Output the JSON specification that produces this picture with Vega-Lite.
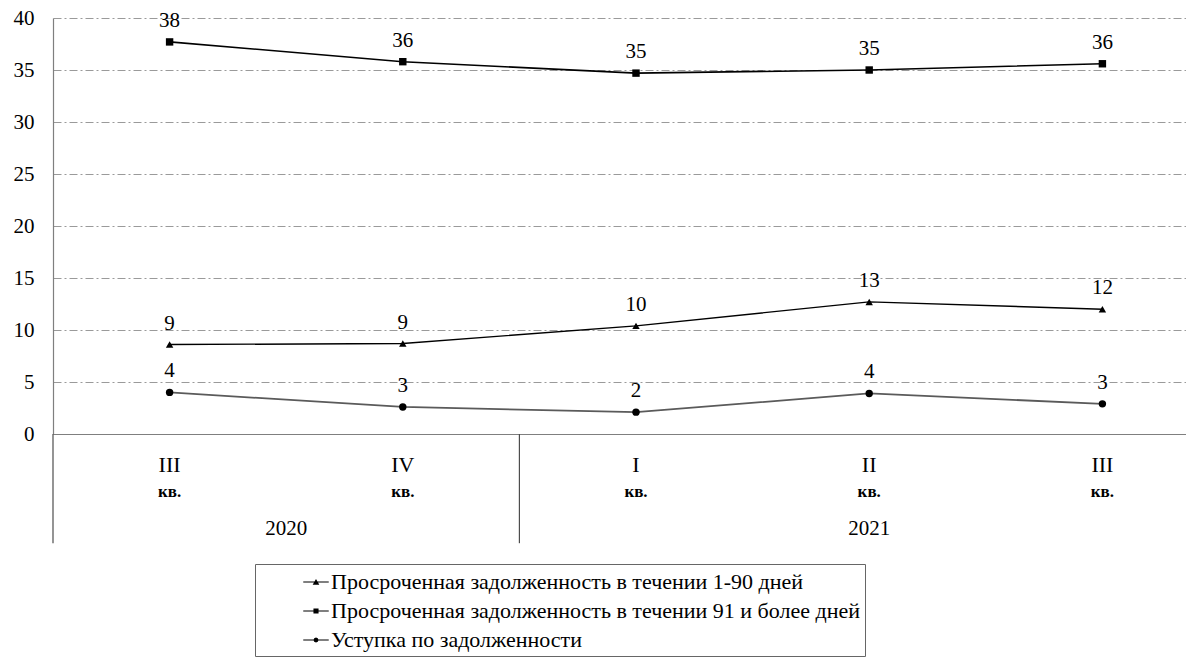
{
  "$schema": "https://vega.github.io/schema/vega-lite/v6.json",
  "autosize": {"type": "none"},
  "width": 1133,
  "height": 416,
  "padding": {"left": 53, "top": 18, "right": 0, "bottom": 230},
  "background": "white",
  "config": {
    "view": {"stroke": null},
    "font": "Liberation Serif",
    "text": {"font": "Liberation Serif", "color": "black"}
  },
  "datasets": {
    "debt": [
      {"q": "2020-III", "s": "Просроченная задолженность в течении 1-90 дней", "v": 8.6},
      {"q": "2020-IV", "s": "Просроченная задолженность в течении 1-90 дней", "v": 8.7},
      {"q": "2021-I", "s": "Просроченная задолженность в течении 1-90 дней", "v": 10.4},
      {"q": "2021-II", "s": "Просроченная задолженность в течении 1-90 дней", "v": 12.7},
      {"q": "2021-III", "s": "Просроченная задолженность в течении 1-90 дней", "v": 12.0},
      {"q": "2020-III", "s": "Просроченная задолженность в течении 91 и более дней", "v": 37.7},
      {"q": "2020-IV", "s": "Просроченная задолженность в течении 91 и более дней", "v": 35.8},
      {"q": "2021-I", "s": "Просроченная задолженность в течении 91 и более дней", "v": 34.7},
      {"q": "2021-II", "s": "Просроченная задолженность в течении 91 и более дней", "v": 35.0},
      {"q": "2021-III", "s": "Просроченная задолженность в течении 91 и более дней", "v": 35.6},
      {"q": "2020-III", "s": "Уступка по задолженности", "v": 4.0},
      {"q": "2020-IV", "s": "Уступка по задолженности", "v": 2.6},
      {"q": "2021-I", "s": "Уступка по задолженности", "v": 2.1},
      {"q": "2021-II", "s": "Уступка по задолженности", "v": 3.9},
      {"q": "2021-III", "s": "Уступка по задолженности", "v": 2.9}
    ],
    "quarters": [
      {"q": "2020-III"}, {"q": "2020-IV"}, {"q": "2021-I"}, {"q": "2021-II"}, {"q": "2021-III"}
    ]
  },
  "encoding": {
    "x": {
      "field": "q",
      "type": "nominal",
      "sort": ["2020-III", "2020-IV", "2021-I", "2021-II", "2021-III"],
      "scale": {"type": "band", "range": [0, 1166], "paddingInner": 0, "paddingOuter": 0},
      "axis": {
        "title": null,
        "labelAngle": 0,
        "ticks": false,
        "labelExpr": "split(datum.value, '-')[1]",
        "labelFont": "Liberation Serif",
        "labelFontSize": 22,
        "labelColor": "black",
        "labelPadding": 20,
        "domainColor": "#7f7f7f",
        "domainWidth": 1.2,
        "grid": false
      }
    }
  },
  "layer": [
    {
      "data": {"name": "debt"},
      "mark": {"type": "line"},
      "encoding": {
        "y": {
          "field": "v",
          "type": "quantitative",
          "scale": {"domain": [0, 40], "nice": false, "zero": false},
          "axis": {
            "title": null,
            "values": [0, 5, 10, 15, 20, 25, 30, 35, 40],
            "ticks": false,
            "labelPadding": 19,
            "labelFont": "Liberation Serif",
            "labelFontSize": 21,
            "labelColor": "black",
            "domainColor": "#7f7f7f",
            "domainWidth": 1.2,
            "grid": true,
            "gridColor": "#9a9a9a",
            "gridWidth": 1,
            "gridDash": [8, 3, 2, 3]
          }
        },
        "detail": {"field": "s"},
        "stroke": {
          "field": "s",
          "type": "nominal",
          "scale": {"range": ["#000000", "#000000", "#5a5a5a"]},
          "legend": null
        },
        "strokeWidth": {
          "field": "s",
          "type": "nominal",
          "scale": {"range": [1.4, 1.8, 1.3]},
          "legend": null
        }
      }
    },
    {
      "data": {"name": "debt"},
      "transform": [{"filter": "datum.s == 'Просроченная задолженность в течении 1-90 дней'"}],
      "mark": {"type": "point", "filled": true, "color": "black", "opacity": 1, "size": 55, "shape": "triangle-up"},
      "encoding": {"y": {"field": "v", "type": "quantitative"}}
    },
    {
      "data": {"name": "debt"},
      "transform": [{"filter": "datum.s == 'Просроченная задолженность в течении 91 и более дней'"}],
      "mark": {"type": "point", "filled": true, "color": "black", "opacity": 1, "size": 55, "shape": "square"},
      "encoding": {"y": {"field": "v", "type": "quantitative"}}
    },
    {
      "data": {"name": "debt"},
      "transform": [{"filter": "datum.s == 'Уступка по задолженности'"}],
      "mark": {"type": "point", "filled": true, "color": "black", "opacity": 1, "size": 55, "shape": "circle"},
      "encoding": {"y": {"field": "v", "type": "quantitative"}}
    },
    {
      "data": {"name": "debt"},
      "mark": {"type": "text", "dy": -21, "fontSize": 21, "baseline": "middle", "align": "center", "font": "Liberation Serif"},
      "encoding": {
        "y": {"field": "v", "type": "quantitative"},
        "text": {"field": "v", "type": "quantitative", "format": ".0f"}
      }
    },
    {
      "data": {"name": "debt"},
      "mark": {"type": "point", "filled": true, "color": "black", "size": 625, "opacity": 0},
      "encoding": {
        "y": {"field": "v", "type": "quantitative"},
        "shape": {
          "field": "s",
          "type": "nominal",
          "scale": {
            "domain": ["Просроченная задолженность в течении 1-90 дней", "Просроченная задолженность в течении 91 и более дней", "Уступка по задолженности"],
            "range": [
              "M-1,-0.03L1,-0.03L1,0.03L-1,0.03ZM-0.26,0.22L0,-0.24L0.26,0.22Z",
              "M-1,-0.03L1,-0.03L1,0.03L-1,0.03ZM-0.2,-0.2L0.2,-0.2L0.2,0.2L-0.2,0.2Z",
              "M-1,-0.03L1,-0.03L1,0.03L-1,0.03ZM-0.2,0L-0.14,-0.14L0,-0.2L0.14,-0.14L0.2,0L0.14,0.14L0,0.2L-0.14,0.14Z"
            ]
          },
          "legend": {
            "title": null,
            "orient": "none",
            "legendX": 202,
            "legendY": 546,
            "direction": "vertical",
            "strokeColor": "#666666",
            "padding": 5,
            "symbolOffset": 43,
            "symbolSize": 650,
            "symbolOpacity": 1,
            "symbolFillColor": "black",
            "symbolStrokeColor": "black",
            "symbolStrokeWidth": 0,
            "labelFont": "Liberation Serif",
            "labelFontSize": 22,
            "labelColor": "black",
            "labelOffset": 2,
            "labelLimit": 900,
            "rowPadding": 5
          }
        }
      }
    },
    {
      "data": {"name": "quarters"},
      "mark": {"type": "rule", "color": "#4d4d4d", "strokeWidth": 1.2},
      "transform": [{"filter": "datum.q == '2020-III' || datum.q == '2021-I'"}],
      "encoding": {
        "x": {"field": "q", "type": "nominal", "bandPosition": 0},
        "y": {"datum": 0},
        "y2": {"datum": -10.5}
      }
    },
    {
      "data": {"name": "quarters"},
      "mark": {"type": "text", "text": "кв.", "fontSize": 17, "fontWeight": "bold", "baseline": "middle"},
      "encoding": {
        "y": {"datum": -5.6}
      }
    },
    {
      "data": {"values": [{"year": "2020", "q": "2020-IV"}]},
      "mark": {"type": "text", "fontSize": 21, "baseline": "middle"},
      "encoding": {
        "x": {"field": "q", "type": "nominal", "bandPosition": 0},
        "y": {"datum": -9.1},
        "text": {"field": "year"}
      }
    },
    {
      "data": {"values": [{"year": "2021", "q": "2021-II"}]},
      "mark": {"type": "text", "fontSize": 21, "baseline": "middle"},
      "encoding": {
        "y": {"datum": -9.1},
        "text": {"field": "year"}
      }
    }
  ]
}
